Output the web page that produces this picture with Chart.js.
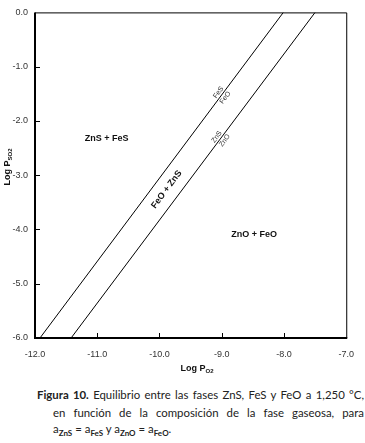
<!DOCTYPE html>
<html>
<head>
<meta charset="utf-8">
<script src="https://cdn.jsdelivr.net/npm/chart.js@4.4.0/dist/chart.umd.min.js"></script>
<style>
  html, body { margin: 0; padding: 0; background: #fff; }
  #wrap { position: relative; width: 365px; height: 443px; overflow: hidden; }
  #box { position: absolute; left: 0; top: 0; width: 365px; height: 380px; }
  .cap { position: absolute; font-family: Lato, "Open Sans", sans-serif; font-size: 11.4px; color: #222; line-height: 17px; white-space: nowrap; }
  .just { text-align: justify; text-align-last: justify; white-space: normal; }
  .cap b { font-weight: bold; }
  .cap sub { font-size: 8px; font-weight: bold; vertical-align: -3px; line-height: 0; }
</style>
</head>
<body>
<div id="wrap">
  <div id="box"><canvas id="c"></canvas></div>
  <div class="cap just" style="left:37px;top:386px;width:327px"><b>Figura 10.</b> Equilibrio entre las fases ZnS, FeS y FeO a 1,250 °C,</div>
  <div class="cap just" style="left:53px;top:404px;width:311px">en función de la composición de la fase gaseosa, para</div>
  <div class="cap" style="left:53px;top:420px">a<sub>ZnS</sub> = a<sub>FeS</sub> y a<sub>ZnO</sub> = a<sub>FeO</sub>.</div>
</div>
<script>
// eje X: log pO2, eje Y: log pSO2
var xTicks = [-12, -11, -10, -9, -8, -7];
var yTicks = [0, -1, -2, -3, -4, -5, -6];

// límite FeS / FeO
var fesFeoX = [-11.92, -8.01];
var fesFeoY = [-6, 0];
// límite ZnS / ZnO
var znsZnoX = [-11.42, -7.50];
var znsZnoY = [-6, 0];

var FONT = '"Liberation Sans", Arial, sans-serif';

function toPts(xs, ys) {
  return xs.map(function(x, i) { return { x: x, y: ys[i] }; });
}
function xOnLine(xs, ys, y) {
  return xs[0] + (y - ys[0]) * (xs[1] - xs[0]) / (ys[1] - ys[0]);
}

// texto con subíndice (p.ej. Log P + SO2)
function subText(ctx, base, sub, size, x, y, rot) {
  ctx.save();
  ctx.translate(x, y);
  ctx.rotate(rot);
  ctx.font = 'bold ' + size + 'px ' + FONT;
  var w1 = ctx.measureText(base).width;
  ctx.font = 'bold ' + Math.round(size * 0.7) + 'px ' + FONT;
  var w2 = ctx.measureText(sub).width;
  var x0 = -(w1 + w2) / 2;
  ctx.fillStyle = '#111';
  ctx.textBaseline = 'middle';
  ctx.textAlign = 'left';
  ctx.font = 'bold ' + size + 'px ' + FONT;
  ctx.fillText(base, x0, 0);
  ctx.font = 'bold ' + Math.round(size * 0.7) + 'px ' + FONT;
  ctx.fillText(sub, x0 + w1, 2);
  ctx.restore();
}

var framePlugin = {
  id: 'frame',
  afterDatasetsDraw: function(chart) {
    var ctx = chart.ctx, a = chart.chartArea;
    var xs = chart.scales.x, ys = chart.scales.y;
    ctx.save();
    ctx.strokeStyle = '#000';
    // marco fino arriba / derecha
    ctx.lineWidth = 1;
    ctx.beginPath();
    ctx.moveTo(a.left, a.top + 0.5); ctx.lineTo(a.right + 0.5, a.top + 0.5);
    ctx.lineTo(a.right + 0.5, a.bottom);
    ctx.stroke();
    // ejes gruesos izquierda / abajo
    ctx.lineWidth = 2;
    ctx.beginPath();
    ctx.moveTo(a.left, a.top); ctx.lineTo(a.left, a.bottom); ctx.lineTo(a.right + 1, a.bottom);
    ctx.stroke();
    // marcas hacia dentro
    ctx.lineWidth = 1;
    ctx.beginPath();
    yTicks.forEach(function(v) {
      var py = Math.round(ys.getPixelForValue(v)) + 0.5;
      if (v === 0 || v === -6) return;
      ctx.moveTo(a.left, py); ctx.lineTo(a.left + 5, py);
    });
    xTicks.forEach(function(v) {
      var px = Math.round(xs.getPixelForValue(v)) + 0.5;
      if (v === -12 || v === -7) return;
      ctx.moveTo(px, a.bottom); ctx.lineTo(px, a.bottom - 5);
    });
    ctx.stroke();

    // ángulo de las líneas en pixeles
    var rot = Math.atan2(ys.getPixelForValue(fesFeoY[1]) - ys.getPixelForValue(fesFeoY[0]),
                         xs.getPixelForValue(fesFeoX[1]) - xs.getPixelForValue(fesFeoX[0]));

    // rótulos de campos
    ctx.fillStyle = '#111';
    ctx.font = 'bold 9px ' + FONT;
    ctx.textAlign = 'center';
    ctx.textBaseline = 'middle';
    ctx.fillText('ZnS + FeS', xs.getPixelForValue(-10.85), ys.getPixelForValue(-2.32));
    ctx.fillText('ZnO + FeO', xs.getPixelForValue(-8.48), ys.getPixelForValue(-4.10));
    ctx.save();
    ctx.translate(xs.getPixelForValue(-9.886), ys.getPixelForValue(-3.263));
    ctx.rotate(rot);
    ctx.fillText('FeO + ZnS', 0, 0);
    ctx.restore();

    // rótulos pequeños sobre las líneas
    function pair(lx, ly, yv, top, bottom, shift) {
      ctx.save();
      ctx.translate(xs.getPixelForValue(xOnLine(lx, ly, yv)), ys.getPixelForValue(yv));
      ctx.rotate(rot);
      ctx.font = '7px ' + FONT;
      ctx.fillStyle = '#333';
      ctx.textAlign = 'center';
      ctx.textBaseline = 'bottom';
      ctx.fillText(top, 0, -0.5);
      ctx.textBaseline = 'top';
      ctx.fillText(bottom, shift, 1);
      ctx.restore();
    }
    pair(fesFeoX, fesFeoY, -1.52, 'FeS', 'FeO', 0);
    pair(znsZnoX, znsZnoY, -2.34, 'ZnS', 'ZnO', 2);

    // títulos de ejes
    subText(ctx, 'Log P', 'SO2', 9, 8, 167, -Math.PI / 2);
    subText(ctx, 'Log P', 'O2', 9, 197, 369, 0);
    ctx.restore();
  }
};

new Chart(document.getElementById('c'), {
  type: 'scatter',
  data: {
    datasets: [
      { data: toPts(fesFeoX, fesFeoY), showLine: true, borderColor: '#000', borderWidth: 1, pointRadius: 0 },
      { data: toPts(znsZnoX, znsZnoY), showLine: true, borderColor: '#000', borderWidth: 1, pointRadius: 0 }
    ]
  },
  options: {
    responsive: true,
    maintainAspectRatio: false,
    animation: false,
    layout: { padding: { top: 7, right: 13, left: 0, bottom: 0 } },
    plugins: { legend: { display: false }, tooltip: { enabled: false } },
    scales: {
      x: {
        type: 'linear', min: -12, max: -7,
        afterBuildTicks: function(s) { s.ticks = xTicks.map(function(v) { return { value: v }; }); },
        afterFit: function(s) { s.height = 42; },
        grid: { display: false, drawTicks: false },
        border: { display: false },
        ticks: { color: '#333', padding: 11, maxRotation: 0, autoSkip: false,
                 font: { family: FONT, size: 9 },
                 callback: function(v) { return v.toFixed(1); } }
      },
      y: {
        type: 'linear', min: -6, max: 0,
        afterBuildTicks: function(s) { s.ticks = yTicks.map(function(v) { return { value: v }; }); },
        afterFit: function(s) { s.width = 35; },
        grid: { display: false, drawTicks: false },
        border: { display: false },
        ticks: { color: '#333', padding: 7, autoSkip: false,
                 font: { family: FONT, size: 9 },
                 callback: function(v) { return v.toFixed(1); } }
      }
    }
  },
  plugins: [framePlugin]
});
</script>
</body>
</html>
